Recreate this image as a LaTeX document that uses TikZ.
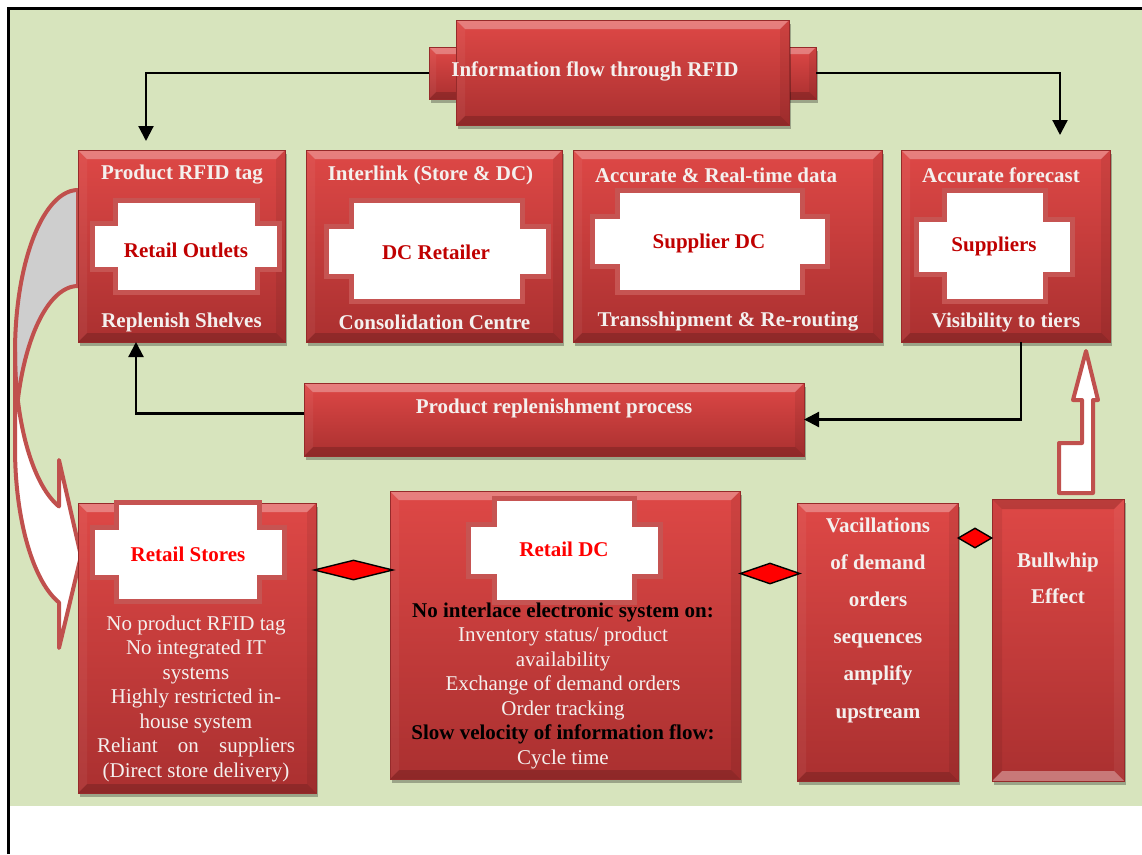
\documentclass[tikz,border=0pt]{standalone}
\usepackage{fontspec}
\setmainfont{Liberation Serif}
\usetikzlibrary{arrows.meta,shapes.geometric,shadows}

\definecolor{bg}{HTML}{D7E4BD}
\definecolor{boxtop}{RGB}{222,72,70}
\definecolor{boxbot}{RGB}{170,48,48}
\definecolor{boxedge}{RGB}{150,42,42}
\definecolor{plaqueedge}{RGB}{198,84,82}
\definecolor{darkred}{HTML}{C00000}
\definecolor{brightred}{HTML}{FF0000}
\definecolor{arrowedge}{HTML}{C0504D}
\definecolor{softwhite}{RGB}{244,240,238}
\definecolor{backgray}{RGB}{206,206,206}

\newcommand\diagfont{\fontsize{21}{24.5}\selectfont}

% white cross-shaped plaque: tall part x1,x2,y1,y2 then wide part x1,x2,y1,y2
\newcommand\plaque[8]{%
  \filldraw[plaque] (#1,#3) -- (#2,#3) -- (#2,#7) -- (#6,#7) -- (#6,#8) -- (#2,#8)
    -- (#2,#4) -- (#1,#4) -- (#1,#8) -- (#5,#8) -- (#5,#7) -- (#1,#7) -- cycle;}

\tikzset{
  bevel/.style={path picture={
    \fill[white,opacity=.30] (path picture bounding box.north west) -- (path picture bounding box.north east)
      -- ([xshift=-#1,yshift=-#1]path picture bounding box.north east) -- ([xshift=#1,yshift=-#1]path picture bounding box.north west) -- cycle;
    \fill[black,opacity=.16] (path picture bounding box.south west) -- (path picture bounding box.south east)
      -- ([xshift=-#1,yshift=#1]path picture bounding box.south east) -- ([xshift=#1,yshift=#1]path picture bounding box.south west) -- cycle;
    \fill[white,opacity=.05] (path picture bounding box.north west) -- ([xshift=#1,yshift=-#1]path picture bounding box.north west)
      -- ([xshift=#1,yshift=#1]path picture bounding box.south west) -- (path picture bounding box.south west) -- cycle;
    \fill[black,opacity=.07] (path picture bounding box.north east) -- ([xshift=-#1,yshift=-#1]path picture bounding box.north east)
      -- ([xshift=-#1,yshift=#1]path picture bounding box.south east) -- (path picture bounding box.south east) -- cycle;
  }},
  bevelinv/.style={path picture={
    \fill[black,opacity=.16] (path picture bounding box.north west) -- (path picture bounding box.north east)
      -- ([xshift=-#1,yshift=-#1]path picture bounding box.north east) -- ([xshift=#1,yshift=-#1]path picture bounding box.north west) -- cycle;
    \fill[white,opacity=.35] (path picture bounding box.south west) -- (path picture bounding box.south east)
      -- ([xshift=-#1,yshift=#1]path picture bounding box.south east) -- ([xshift=#1,yshift=#1]path picture bounding box.south west) -- cycle;
    \fill[black,opacity=.07] (path picture bounding box.north west) -- ([xshift=#1,yshift=-#1]path picture bounding box.north west)
      -- ([xshift=#1,yshift=#1]path picture bounding box.south west) -- (path picture bounding box.south west) -- cycle;
    \fill[white,opacity=.05] (path picture bounding box.north east) -- ([xshift=-#1,yshift=-#1]path picture bounding box.north east)
      -- ([xshift=-#1,yshift=#1]path picture bounding box.south east) -- (path picture bounding box.south east) -- cycle;
  }},
  shadowed/.style={drop shadow={shadow xshift=2pt,shadow yshift=-4pt,opacity=.28,fill=black}},
  redbox/.style={draw=boxedge, line width=.8pt, top color=boxtop, bottom color=boxbot,
    bevel=9pt, shadowed, inner sep=0pt, outer sep=0pt},
  tabbox/.style={redbox, bevel=7pt},
  bullbox/.style={draw=boxedge, line width=.8pt, top color=boxtop, bottom color=boxbot,
    bevelinv=10pt, shadowed, inner sep=0pt, outer sep=0pt},
  plaque/.style={fill=white, draw=plaqueedge, line width=5pt},
  title/.style={text=softwhite, font=\diagfont\bfseries, inner sep=0pt},
  plaquetext/.style={text=darkred, font=\diagfont\bfseries, inner sep=0pt},
  plaquetextb/.style={text=brightred, font=\diagfont\bfseries, inner sep=0pt},
  bodytext/.style={text=softwhite, font=\diagfont, align=center, inner sep=0pt},
  conn/.style={line width=2.2pt, -{Triangle[length=15pt,width=15pt]}},
  linkdiamond/.style={diamond, draw=black, line width=1.4pt, fill=red, inner sep=0pt},
  blockarrow/.style={draw=arrowedge, line width=4pt, line join=round, fill=white},
  backface/.style={draw=arrowedge, line width=4pt, line join=round, fill=backgray},
}

\begin{document}
\begin{tikzpicture}[x=1pt,y=-1pt]
\useasboundingbox (0,0) rectangle (1142,854);

% canvas and frame
\fill[bg] (10,10) rectangle (1142,806);
\draw[line width=3pt] (8.5,854) -- (8.5,8.5) -- (1142,8.5);

% curved block arrow on the left: back face, then front face with head
\filldraw[backface] plot[domain=270:180,samples=50] ({78+63*cos(\x)},{352+162*sin(\x)})
  -- plot[domain=180:270,samples=50] ({78+63*cos(\x)},{448+162*sin(\x)}) -- cycle;
\filldraw[blockarrow] plot[domain=180:107.55,samples=50] ({78+63*cos(\x)},{352+162*sin(\x)})
  -- (59,460) -- (81,556) -- (59,648)
  -- plot[domain=107.55:180,samples=50] ({78+63*cos(\x)},{448+162*sin(\x)}) -- cycle;

% header
\node[tabbox, minimum width=51pt, minimum height=52pt] (tabL) at (454.5,73) {};
\node[tabbox, minimum width=51pt, minimum height=52pt] (tabR) at (790.5,73) {};
\node[redbox, minimum width=333pt, minimum height=105pt] (info) at (622.5,72.5) {};
\node[title] (infotxt) at (595,71) {Information flow through RFID};

% top row
\node[redbox, minimum width=207pt, minimum height=192pt] (outlets) at (181.5,246) {};
\node[redbox, minimum width=256pt, minimum height=192pt] (dcret) at (434,246) {};
\node[redbox, minimum width=309pt, minimum height=192pt] (supdc) at (727.5,246) {};
\node[redbox, minimum width=209pt, minimum height=192pt] (suppl) at (1005.5,246) {};

\plaque{115.5}{257.5}{200.5}{292.5}{92.5}{279.5}{223.5}{269.5}
\plaque{351.5}{522.5}{200.5}{301.5}{326.5}{548.5}{226.5}{276.5}
\plaque{617.5}{802.5}{190.5}{292.5}{592.5}{827.5}{216.5}{266.5}
\plaque{944.5}{1045}{190.5}{301.5}{916}{1072.5}{219.5}{274.5}

\node[title] (a1) at (182,175) {Product RFID tag};
\node[plaquetext] (a2) at (186,250.5) {Retail Outlets};
\node[title] (a3) at (181.5,322) {Replenish Shelves};
\node[title] (b1) at (430.5,175) {Interlink (Store \& DC)};
\node[plaquetext] (b2) at (436,252.5) {DC Retailer};
\node[title] (b3) at (434.5,322) {Consolidation Centre};
\node[title] (c1) at (716,175) {Accurate \& Real-time data};
\node[plaquetext] (c2) at (709,243.5) {Supplier DC};
\node[title] (c3) at (728,322) {Transshipment \& Re-routing};
\node[title] (e1) at (1001,175) {Accurate forecast};
\node[plaquetext] (e2) at (994,246.5) {Suppliers};
\node[title] (e3) at (1006,322) {Visibility to tiers};

% replenishment bar
\node[redbox, minimum width=500pt, minimum height=73pt] (repl) at (554,419.5) {};
\node[title] (repltxt) at (554,408) {Product replenishment process};

% connectors
\draw[conn] (tabL.west) -| ([xshift=-35.5pt,yshift=9pt]outlets.north);
\draw[conn] (tabR.east) -| ([xshift=54.5pt,yshift=15pt]suppl.north);
\draw[conn] ([yshift=6pt]repl.west) -| ([xshift=-45.5pt]outlets.south);
\draw[conn] ([xshift=15.5pt]suppl.south) |- (repl.east);

% bottom row
\node[redbox, minimum width=238pt, minimum height=290pt] (stores) at (197,648) {};
\node[redbox, minimum width=350pt, minimum height=288pt] (retdc) at (565,635) {};
\node[redbox, minimum width=161pt, minimum height=278pt] (vac) at (877.5,642) {};
\node[bullbox, minimum width=132pt, minimum height=282pt] (bull) at (1058,640) {};

\plaque{116.8}{259.2}{502.5}{601.5}{92.5}{284.2}{527.5}{577.5}
\plaque{494.2}{634.2}{498.2}{602.5}{468.2}{660.2}{524.8}{576.5}

\node[plaquetextb] (s1) at (188,554.5) {Retail Stores};
\node[bodytext] (s2) at (196,698.5) {No product RFID tag\\No integrated IT\\systems\\Highly restricted in-\\house system\\\makebox[198pt][s]{Reliant on suppliers}\\(Direct store delivery)};
\node[plaquetextb] (r1) at (564,549.5) {Retail DC};
\node[bodytext] (r2) at (563,685.5) {\textcolor{black}{\bfseries No interlace electronic system on:}\\Inventory status/ product\\availability\\Exchange of demand orders\\Order tracking\\\textcolor{black}{\bfseries Slow velocity of information flow:}\\Cycle time};
\node[bodytext, font=\fontsize{21}{37.2}\selectfont\bfseries] (v1) at (878,620) {Vacillations\\of demand\\orders\\sequences\\amplify\\upstream};
\node[bodytext, font=\fontsize{21}{36.5}\selectfont\bfseries] (w1) at (1058,578.5) {Bullwhip\\Effect};

% diamond links between the bottom boxes
\node[linkdiamond, minimum width=79pt, minimum height=20pt] (d1) at (353.5,570) {};
\node[linkdiamond, minimum width=60pt, minimum height=21pt] (d2) at (770,573.5) {};
\node[linkdiamond, minimum width=34pt, minimum height=20pt] (d3) at (975,538) {};

% bent block arrow rising from the bullwhip box
\filldraw[blockarrow] (1082,400) -- (1073,400) -- (1086,351) -- (1098,400) -- (1093,400)
  -- (1093,493) -- (1059,493) -- (1059,443) -- (1082,443) -- cycle;
\end{tikzpicture}
\end{document}
